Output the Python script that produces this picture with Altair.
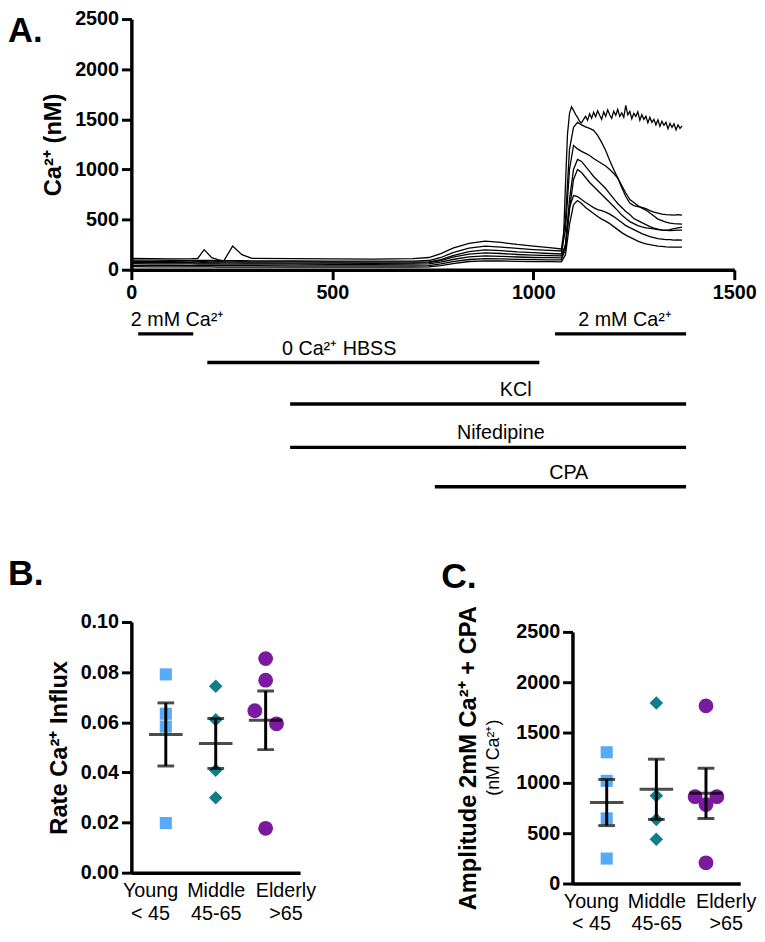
import altair as alt
import pandas as pd
import numpy as np

FONT = "Liberation Sans"

# ---------------- Panel A : Ca2+ traces ----------------
time_pre = [0, 50, 100, 150, 165, 181, 200, 215, 230, 252, 275, 300, 400, 500, 600, 700,
            740, 770, 800, 840, 880, 920, 960, 1000, 1040]
time_post = [1070, 1080, 1090, 1100, 1110, 1120, 1130, 1140, 1150, 1160, 1170, 1180, 1190,
             1200, 1210, 1220, 1230, 1240, 1250, 1260, 1270, 1280, 1290, 1300, 1310, 1320,
             1330, 1340, 1350, 1360, 1370]
time_post_fine = list(range(1070, 1371, 5))   # finer sampling for the noisy sustained cell

trace_1_pre = [82, 80, 81, 79, 80, 80, 79, 80, 78, 79, 80, 79, 78, 77, 76, 75, 78, 100, 140, 180, 197, 190, 178, 170, 162]
trace_1_post = [157, 300, 850, 1350, 1560, 1625, 1590, 1550, 1520, 1480, 1465, 1500, 1530,
                1490, 1555, 1510, 1570, 1525, 1585, 1540, 1500, 1575, 1530,
                1595, 1545, 1510, 1580, 1540, 1600, 1530, 1565, 1520, 1640,
                1545, 1580, 1505, 1560, 1530, 1575, 1490, 1545, 1500, 1530,
                1465, 1520, 1470, 1500, 1445, 1495, 1430, 1480, 1440, 1470,
                1405, 1460, 1420, 1455, 1395, 1445, 1410, 1435]
trace_2 = [112, 110, 109, 110, 112, 200, 120, 100, 88, 236, 150, 113, 110, 108, 106, 110, 122, 160, 215, 262, 285, 272, 252, 236, 220,
           207, 500, 1200, 1420, 1470, 1445, 1425, 1410, 1390, 1340, 1270, 1190, 1090, 1000, 915, 820, 730, 665,
           640, 630, 622, 610, 590, 575, 565, 555, 550, 548, 545, 550, 545]
trace_3 = [96, 95, 94, 93, 92, 93, 92, 91, 91, 90, 90, 89, 87, 86, 85, 86, 92, 122, 170, 215, 236, 226, 212, 201, 193,
           187, 400, 1000, 1240, 1205, 1180, 1160, 1140, 1110, 1085, 1060, 1035, 1000, 960, 915, 840, 765, 700,
           670, 640, 615, 595, 565, 535, 505, 490, 475, 465, 460, 458, 455]
trace_4 = [72, 71, 70, 70, 69, 70, 69, 68, 68, 68, 67, 67, 66, 65, 64, 65, 70, 92, 125, 155, 167, 162, 152, 145, 141,
           138, 250, 700, 1000, 1100, 1080, 1030, 980, 930, 890, 850, 810, 760, 710, 660, 620, 580, 550,
           510, 490, 470, 450, 430, 415, 405, 398, 395, 400, 410, 418, 425]
trace_5 = [60, 59, 58, 58, 57, 58, 57, 57, 56, 56, 56, 55, 55, 54, 54, 55, 58, 76, 102, 128, 138, 134, 127, 122, 120,
           118, 200, 600, 900, 1000, 970, 920, 870, 830, 790, 750, 710, 670, 630, 590, 545, 510, 480,
           460, 440, 428, 418, 412, 408, 400, 395, 392, 390, 392, 395, 395]
trace_6 = [44, 43, 43, 42, 42, 42, 41, 41, 41, 40, 40, 40, 39, 39, 38, 39, 42, 58, 80, 102, 110, 108, 104, 101, 99,
           98, 250, 620, 740, 730, 700, 670, 645, 620, 600, 590, 575, 555, 530, 500, 470, 440, 420,
           400, 380, 360, 345, 330, 320, 310, 305, 300, 300, 296, 298, 295]
trace_7 = [30, 29, 29, 28, 28, 28, 28, 27, 27, 27, 27, 26, 26, 25, 25, 26, 28, 42, 62, 82, 89, 87, 84, 81, 80,
           79, 150, 450, 650, 690, 660, 620, 590, 560, 530, 505, 485, 460, 430, 400, 370, 345, 325,
           305, 285, 270, 258, 250, 242, 235, 232, 228, 226, 225, 226, 225]

# treatment timeline under panel A
tl_label = ["2 mM Ca²⁺", "2 mM Ca²⁺", "0 Ca²⁺ HBSS", "KCl", "Nifedipine", "CPA"]
tl_start = [17, 1054, 189, 395, 395, 755]
tl_end = [154, 1380, 1015, 1380, 1380, 1380]
tl_lane = [0, 0, 1, 2, 3, 4]
tl_label_t = [115, 1228, 517, 956, 919, 1088]

# ---------------- Panels B and C ----------------
groups = ["Young", "Middle", "Elderly"]
group_sub = ["< 45", "45-65", ">65"]
rate_vals = [[0.0791, 0.0634, 0.0583, 0.0198],
             [0.0744, 0.0610, 0.0409, 0.0299],
             [0.0854, 0.0768, 0.0646, 0.0594, 0.0177]]
amp_vals = [[1304, 1020, 647, 248],
            [1794, 873, 637, 441],
            [1765, 863, 863, 784, 206]]

# ---------------- build tables ----------------
time_all = time_pre + time_post
series = [(time_pre + time_post_fine, trace_1_pre + trace_1_post),
          (time_all, trace_2), (time_all, trace_3), (time_all, trace_4),
          (time_all, trace_5), (time_all, trace_6), (time_all, trace_7)]
rows = []
for k, (ts, vs) in enumerate(series):
    assert len(ts) == len(vs), (k, len(ts), len(vs))
    for t, v in zip(ts, vs):
        rows.append({"t": t, "ca": v, "trace": f"cell {k + 1}"})
df_tr = pd.DataFrame(rows)
df_tl = pd.DataFrame({"label": tl_label, "start": tl_start, "end": tl_end,
                      "lane": tl_lane, "label_t": tl_label_t})

AX_W = 3.5
TICK_W = 3
BAR_W = 3

xsA = alt.Scale(domain=[0, 1500], nice=False, zero=False)
xaxA = alt.Axis(values=[0, 500, 1000, 1500], format="d", title=None, labelFlush=False, labelOverlap=False,
                labelPadding=3, tickSize=10)
lane_scale = alt.Scale(domain=[0, 1, 2, 3, 4], range=[319, 348, 390, 434, 474], zero=False, nice=False)

lines = alt.Chart(df_tr).mark_line(color="black", strokeWidth=1.3).encode(
    x=alt.X("t:Q", scale=xsA, axis=xaxA),
    y=alt.Y("ca:Q", scale=alt.Scale(domain=[0, 2500], nice=False),
            axis=alt.Axis(values=[0, 500, 1000, 1500, 2000, 2500], format="d", title="Ca²⁺ (nM)",
                          titlePadding=9, labelPadding=3, tickSize=10)),
    detail="trace:N",
)
spans = alt.Chart(df_tl).mark_rule(color="black", strokeWidth=3.5).encode(
    x=alt.X("start:Q", scale=xsA, axis=xaxA),
    x2="end:Q",
    y=alt.Y("lane:Q", scale=lane_scale, axis=None),
)
span_text = alt.Chart(df_tl).mark_text(fontSize=20, baseline="middle", dy=-14, color="black").encode(
    x=alt.X("label_t:Q", scale=xsA, axis=xaxA),
    y=alt.Y("lane:Q", scale=lane_scale, axis=None),
    text="label:N",
)
lab_df = pd.DataFrame({"a": [0]})
labelA = alt.Chart(lab_df).mark_text(text="A.", fontSize=35, fontWeight="bold", align="left",
                                     baseline="top", color="black").encode(
    x=alt.value(-125), y=alt.value(-4.6))

chartA = alt.layer(lines, spans, span_text, labelA).resolve_scale(y="independent").properties(
    width=611, height=254)


def swarm_offsets(vals, px_per_unit, coll):
    order = sorted(range(len(vals)), key=lambda i: -vals[i])
    clusters = []
    for i in order:
        if clusters and abs(vals[clusters[-1][-1]] - vals[i]) * px_per_unit < coll:
            clusters[-1].append(i)
        else:
            clusters.append([i])
    pattern = [-1, 1, 0, -2, 2]
    off = [0] * len(vals)
    for c in clusters:
        if len(c) > 1:
            for k, i in enumerate(c):
                off[i] = pattern[k % len(pattern)]
    return off


SHAPES = ["square", "diamond", "circle"]
SIZES = [150, 225, 125]
COLL = [12.5, 15, 14]
XDOM = [-0.69, 2.69]
LABEL_SHIFT = [-16, 0, 20]


def group_panel(vals, colors, ydom, yvals, yfmt, ytitle, title_pad, width, height, yrange, letter, letter_x,
                letter_y, extra=None):
    px_per_unit = abs(yrange[0] - yrange[1]) / (ydom[1] - ydom[0])
    step = width / (XDOM[1] - XDOM[0])
    pts, stats = [], []
    for gi, (g, vs) in enumerate(zip(groups, vals)):
        offs = swarm_offsets(vs, px_per_unit, COLL[gi])
        for v, o in zip(vs, offs):
            pts.append({"grp": g, "v": v, "xpos": gi + o * 11 / step})
        arr = np.array(vs, dtype=float)
        m = arr.mean()
        sem = arr.std(ddof=1) / np.sqrt(len(arr))
        stats.append({"gi": gi, "mean": m, "lo": m - sem, "hi": m + sem})
    dpts = pd.DataFrame(pts)
    dst = pd.DataFrame(stats)

    xs = alt.Scale(domain=XDOM, nice=False, zero=False)
    ys = alt.Scale(domain=ydom, range=yrange, nice=False, zero=False)
    lab_expr = "[" + ",".join(f"['{a}','{b}']" for a, b in zip(groups, group_sub)) + "][datum.value]"
    xax = alt.Axis(values=[0, 1, 2], labelExpr=lab_expr, ticks=False, title=None, labelFontWeight="normal",
                   labelFontSize=20, labelPadding=8, labelLineHeight=23, labelFlush=False, labelOverlap=False,
                   labelOffset={"condition": [{"test": "datum.value == 0", "value": LABEL_SHIFT[0]},
                                              {"test": "datum.value == 2", "value": LABEL_SHIFT[2]}],
                                "value": LABEL_SHIFT[1]})
    yax = alt.Axis(values=yvals, format=yfmt, title=ytitle, titlePadding=title_pad, labelPadding=3, tickSize=10)

    points = alt.Chart(dpts).mark_point(filled=True, opacity=1, strokeWidth=0).encode(
        x=alt.X("xpos:Q", scale=xs, axis=xax),
        y=alt.Y("v:Q", scale=ys, axis=yax),
        shape=alt.Shape("grp:N", scale=alt.Scale(domain=groups, range=SHAPES), legend=None),
        color=alt.Color("grp:N", scale=alt.Scale(domain=groups, range=colors), legend=None),
        size=alt.Size("grp:N", scale=alt.Scale(domain=groups, range=SIZES), legend=None),
    )
    base = alt.Chart(dst)
    vline = base.mark_rule(color="black", strokeWidth=BAR_W).encode(
        x=alt.X("gi:Q", scale=xs, axis=xax), y=alt.Y("lo:Q", scale=ys, axis=yax), y2="hi:Q")
    mean_t = base.mark_tick(orient="horizontal", size=34, thickness=BAR_W, color="black").encode(
        x=alt.X("gi:Q", scale=xs, axis=xax), y=alt.Y("mean:Q", scale=ys, axis=yax))
    lo_t = base.mark_tick(orient="horizontal", size=17, thickness=BAR_W, color="black").encode(
        x=alt.X("gi:Q", scale=xs, axis=xax), y=alt.Y("lo:Q", scale=ys, axis=yax))
    hi_t = base.mark_tick(orient="horizontal", size=17, thickness=BAR_W, color="black").encode(
        x=alt.X("gi:Q", scale=xs, axis=xax), y=alt.Y("hi:Q", scale=ys, axis=yax))
    letter_l = alt.Chart(lab_df).mark_text(text=letter, fontSize=36, fontWeight="bold", align="left",
                                           baseline="top", color="black").encode(
        x=alt.value(letter_x), y=alt.value(letter_y))
    layers = [points, vline, mean_t, lo_t, hi_t, letter_l]
    if extra is not None:
        layers.append(extra)
    return alt.layer(*layers).properties(width=width, height=height)


chartB = group_panel(rate_vals, ["#56AAF8", "#0F7E8C", "#7B1A9E"], [0, 0.1],
                     [0, 0.02, 0.04, 0.06, 0.08, 0.10], ".2f", "Rate Ca²⁺ Influx", 9,
                     171, 254, [254, 0], "B.", -125, -65.7)

unitC = alt.Chart(lab_df).mark_text(text="(nM Ca²⁺)", fontSize=18, angle=270, align="center",
                                    baseline="middle", color="black").encode(
    x=alt.value(-79), y=alt.value(137.5))
chartC = group_panel(amp_vals, ["#56AAF8", "#1BA0B0", "#7B1A9E"], [0, 2500],
                     [0, 500, 1000, 1500, 2000, 2500], "d", "Amplitude 2mM Ca²⁺ + CPA", 36,
                     170, 265, [265, 10], "C.", -133, -62.7, extra=unitC)

bottom = alt.hconcat(chartB, chartC, spacing=127)
chart = alt.vconcat(chartA, bottom, spacing=68,
                    padding={"left": 0, "top": -5, "right": 0, "bottom": 0}).configure(font=FONT).configure_view(
    stroke=None).configure_axis(
    grid=False, domainColor="black", domainWidth=AX_W, tickColor="black", tickWidth=TICK_W,
    labelColor="black", labelFontSize=20, labelFontWeight="bold", labelFont=FONT,
    titleColor="black", titleFontSize=24, titleFontWeight="bold", titleFont=FONT)

chart.save("out.html", embed_options={"renderer": "svg", "actions": False})
